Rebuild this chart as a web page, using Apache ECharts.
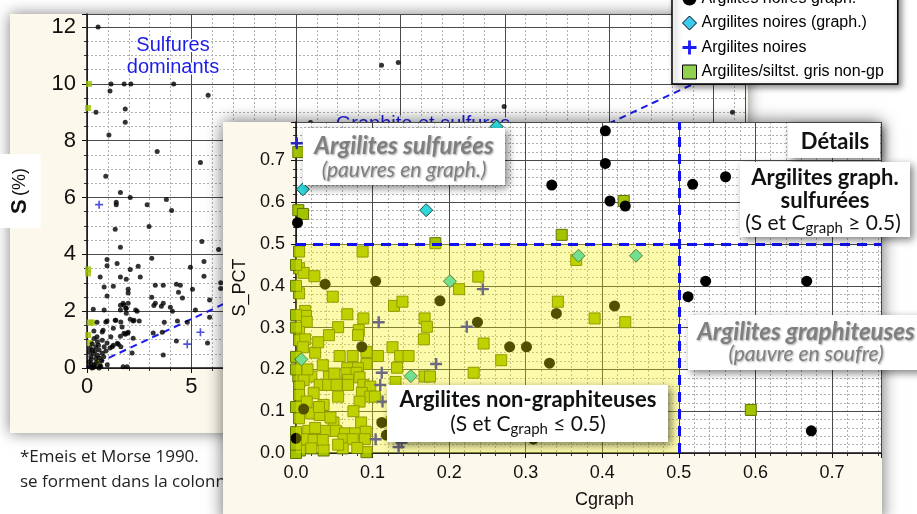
<!DOCTYPE html>
<html><head><meta charset="utf-8">
<script src="https://cdn.jsdelivr.net/npm/echarts@6/dist/echarts.min.js"></script>
<style>html,body{margin:0;padding:0;background:#fff}#c{width:917px;height:514px}</style>
</head><body><div id="c"></div>
<script>
// ---------- Background chart : S (%) vs C (%) ----------
const bgNoires = [[0.53,12.0],[1.15,10.0],[1.1,9.75],[1.78,10.0],[2.1,10.0],[4.15,10.0],[5.8,9.6],[0.43,9.0],[1.83,9.12],[1.83,8.65],[1.05,8.2],[3.36,7.62],[5.43,7.23],[0.9,6.75],[1.6,6.18],[2.07,6.0],[1.4,5.83],[1.4,5.75],[2.88,5.75],[3.8,5.93],[4.05,5.54],[1.35,4.88],[2.97,4.98],[5.5,4.45],[1.6,4.25],[6.3,4.17],
[14.1,10.66],[14.9,10.75],[19.97,9.2],[10.7,8.64],[30.9,9.0],
[0.96,3.82],[0.96,3.6],[1.44,3.68],[0.63,3.2],[1.6,3.2],[1.88,3.12],[2.07,3.47],[2.45,3.58],[2.55,3.2],[3.1,3.86],[4.95,3.55],[5.6,3.75],[5.6,3.23],[6.4,3.0],[6.4,2.8],[0.82,2.85],[1.26,2.88],[1.97,2.77],[1.97,2.64],[0.96,2.53],[3.27,2.91],[3.65,2.91],[4.28,2.95],[4.47,2.91],[4.38,2.67],[4.57,2.46],[5.05,2.77],[3.1,2.49],[3.27,2.28],[3.65,2.28],[3.99,2.14],[4.09,2.0],[5.87,2.39],[5.19,2.04],[5.87,1.79],[0.3,2.07],[1.6,2.21],[1.73,2.28],[1.97,2.28],[1.88,2.1],[1.88,1.93],[1.6,2.04],[2.4,2.0],[2.07,1.72],[2.21,1.65],[2.5,1.65],[0.96,1.65],[1.35,1.68],[0.48,1.61],[1.68,1.44],[1.26,1.4],[0.77,1.33],[1.97,1.26],[1.83,1.19],[1.6,1.12],[2.21,1.05],[3.17,1.23],[3.6,1.26],[3.7,1.61],[4.33,1.65],[4.8,1.61],[4.28,0.95],[5.77,0.88],[3.65,0.46],[1.26,0.8],[1.5,0.84],[1.1,0.7],[0.96,0.88],[2.16,0.53],[1.73,0.04],[1.92,0.04],
[0.34,1.04],[0.5,0.92],[0.42,0.75],[0.25,0.63],[0.58,0.63],[0.82,0.75],[0.73,0.52],[0.18,0.4],[0.42,0.34],[0.1,0.22],[0.34,0.11],[0.1,0.05],[0.66,0.05],[0.97,0.11],[0.73,1.27],[0.82,2.04],[0.9,1.62],[1.38,1.68],[1.62,1.62],[2.25,1.68],[1.77,2.21],[1.86,2.09],[2.33,2.04],[1.14,1.1],[1.45,0.87],[1.77,1.22],[1.93,1.22],[1.21,0.75],[1.62,0.75],[0.73,0.98],[3.2,2.2],[3.56,2.17],[0.58,0.0],[0.24,0.0],[0.2,0.3],[0.3,0.5],[0.45,0.2],[0.6,0.35],[0.15,0.7],[0.5,0.45],[0.7,0.25],[0.25,0.85],[0.38,0.6],[0.55,0.8],[0.2,0.15],[0.8,0.4],[0.62,0.08],[0.3,0.02],[0.9,0.6],[0.12,0.55],[0.48,1.1],[0.33,1.3],[0.4,0.05]];
const bgCroix = [[0.58,5.75],[5.43,1.26],[4.8,0.84]];
const bgGris = [[0.1,10.0],[0.05,9.15],[0.05,3.47],[0.05,3.33],[0.14,1.6],[0.24,1.6],[0.05,1.16],[0.14,0.88],[0.58,0.22]];
const bgLigne = [[0,0],[31.5,10.85]];
const bgXMax = 31.5, bgYMax = 12.46, bgXStep = 5, bgYStep = 2, bgXMinor = 1, bgYMinor = 0.5;

// ---------- Inset : S_PCT vs Cgraph ----------
const inNoiresGraph = [[0.404,0.771],[0.404,0.693],[0.334,0.641],[0.410,0.603],[0.430,0.591],[0.002,0.551],[0.518,0.643],[0.561,0.661],[0.535,0.411],[0.667,0.411],[0.512,0.374],[0.673,0.053],[0.038,0.404],[0.104,0.411],[0.188,0.364],[0.237,0.313],[0.416,0.352],[0.340,0.334],[0.279,0.254],[0.301,0.254],[0.331,0.215],[0.086,0.254],[0.010,0.105],[0.112,0.073],[0.118,0.043],[0.000,0.035],[0.310,0.033]];
const inDiamants = [[0.262,0.781],[0.009,0.631],[0.170,0.581],[0.201,0.411],[0.369,0.472],[0.444,0.472],[0.007,0.224],[0.150,0.184]];
const inCroix = [[0.001,0.741],[0.244,0.392],[0.108,0.313],[0.223,0.302],[0.183,0.213],[0.112,0.192],[0.110,0.163],[0.113,0.123],[0.104,0.033],[0.134,0.014],[0.138,0.025]];
const inGris = [[0.003,0.72],[0.003,0.581],[0.009,0.572],[0.182,0.502],[0.347,0.522],[0.428,0.603],[0.366,0.462],[0.342,0.362],[0.390,0.322],[0.430,0.313],[0.245,0.262],[0.268,0.222],[0.232,0.192],[0.594,0.103],
[0.004,0.482],[0.004,0.442],[0.01,0.431],[0.024,0.423],[0.087,0.482],[0.004,0.382],[0.048,0.374],[0.213,0.392],[0.238,0.422],
[0.128,0.352],[0.139,0.362],[0.012,0.340],[0.013,0.328],[0.014,0.314],[0.067,0.332],[0.088,0.322],[0.168,0.322],[0.171,0.302],[0.055,0.301],[0.043,0.282],[0.082,0.294],[0.081,0.282],[0.004,0.290],[0.004,0.270],[0.012,0.272],[0.009,0.253],[0.167,0.272],[0.126,0.253],[0.092,0.242],[0.057,0.232],[0.074,0.232],[0.107,0.232],[0.136,0.232],[0.147,0.232],[0.092,0.213],[0.132,0.204],[0.067,0.203],[0.081,0.203],[0.066,0.191],[0.079,0.192],[0.168,0.183],[0.175,0.183],[0.003,0.183],[0.02,0.183],[0.043,0.183],[0.01,0.175],[0.068,0.175],[0.083,0.181],[0.031,0.163],[0.042,0.163],[0.053,0.163],[0.068,0.163],[0.088,0.163],[0.004,0.159],[0.097,0.159],[0.086,0.144],[0.023,0.143],[0.004,0.139],[0.097,0.135],[0.103,0.135],[0.014,0.123],[0.083,0.123],[0.036,0.115],[0.02,0.095],[0.031,0.091],[0.004,0.083],[0.049,0.073],[0.085,0.073],[0.016,0.053],[0.039,0.053],[0.052,0.053],[0.064,0.047],[0.077,0.047],[0.091,0.051],[0.01,0.033],[0.023,0.031],[0.035,0.031],[0.062,0.033],[0.074,0.033],[0.09,0.033],[0.005,0.006],[0.02,0.011],[0.036,0.006],[0.061,0.011],[0.092,0.002],
[0.0,0.0],[0.0,0.02],[0.0,0.05],[0.0,0.11],[0.0,0.2],[0.0,0.23],[0.0,0.3],[0.0,0.33],[0.0,0.45],[0.0,0.4],
[0.125,0.075],[0.155,0.06],[0.17,0.1],[0.16,0.14],[0.13,0.17],[0.015,0.2],[0.035,0.21],[0.05,0.19],[0.025,0.24],[0.029,0.265],[0.03,0.11],[0.055,0.135],[0.075,0.1],[0.045,0.085],[0.025,0.06],[0.055,0.02],[0.08,0.012]];
const seuilC = 0.5, seuilS = 0.5;
const inXMax = 0.764, inYMax = 0.792, inStep = 0.1, inMinor = 0.02;

const legendNames = ['Argilites noires graph.','Argilites noires (graph.)','Argilites noires','Argilites/siltst. gris non-gp'];

const F = '"Liberation Sans", Arial, sans-serif';
const L = 'Lato, "Open Sans", sans-serif';
const CROSS = 'path://M4,0H6V4H10V6H6V10H4V6H0V4H4Z';
const BEIGE = '#fdf8ec';

function onStep(v, s){ return Math.abs(v/s - Math.round(v/s)) < 1e-6; }
function mainAxis(o){
  return Object.assign({
    type:'value', min:0, axisLine:{show:true,onZero:false,lineStyle:{color:'#111',width:1.5}},
    axisTick:{show:true,inside:false,length:5,lineStyle:{color:'#111'}},
    splitLine:{show:true,lineStyle:{color:'#4a4a4a',width:1}}
  }, o);
}
function minorAxis(o){
  return Object.assign({
    type:'value', min:0, axisLine:{show:false}, axisLabel:{show:false},
    axisTick:{show:true,inside:false,length:3,lineStyle:{color:'#333'}},
    splitLine:{show:true,lineStyle:{color:'#b0b0b0',width:1,type:[2,2]}}
  }, o);
}
function box(x,y,w,h){
  return {type:'rect', zlevel:1, z:20, shape:{x:x,y:y,width:w,height:h},
    style:{fill:'#fff', shadowBlur:8, shadowOffsetX:3, shadowOffsetY:3, shadowColor:'rgba(0,0,0,0.5)'}};
}
function txt(t,x,y,size,bold,italic,color,shadow){
  const s = {text:t, x:x, y:y, align:'center', verticalAlign:'middle', fontSize:size, fontFamily:L,
    fontWeight:bold?'bold':'normal', fontStyle:italic?'italic':'normal', fill:color};
  if (shadow) Object.assign(s,{textShadowColor:'rgba(0,0,0,0.35)', textShadowBlur:2, textShadowOffsetX:1, textShadowOffsetY:1});
  return {type:'text', zlevel:1, z:21, style:s};
}
function sub(op,x,y){
  return {type:'text', zlevel:1, z:21, style:{text:'{n|(S et C}{s|graph}{n| '+op+' 0.5)}', x:x, y:y, align:'center', verticalAlign:'middle',
    rich:{n:{fontSize:21, fontFamily:L, fill:'#111'}, s:{fontSize:15, fontFamily:L, fill:'#111', padding:[10,0,0,0]}}}};
}

const chart = echarts.init(document.getElementById('c'));
chart.setOption({
  animation:false,
  grid:[
    {left:87, top:14, width:658, height:354, show:true, backgroundColor:'#fff', borderWidth:0, zlevel:0, z:0, outerBoundsMode:'none', containLabel:false},
    {left:296, top:122, width:585, height:331, show:true, backgroundColor:'#fff', borderWidth:0, zlevel:1, z:1, outerBoundsMode:'none', containLabel:false}
  ],
  xAxis:[
    minorAxis({gridIndex:0, max:bgXMax, interval:bgXMinor, zlevel:0, z:0, position:'bottom'}),
    mainAxis({gridIndex:0, max:bgXMax, interval:bgXStep, zlevel:0, z:1, position:'bottom',
      axisLabel:{fontSize:22, fontFamily:F, color:'#111', margin:8, formatter:v=>onStep(v,bgXStep)?String(v):''}}),
    minorAxis({gridIndex:1, max:inXMax, interval:inMinor, zlevel:1, z:2, position:'bottom'}),
    mainAxis({gridIndex:1, max:inXMax, interval:inStep, zlevel:1, z:3, position:'bottom',
      axisLabel:{fontSize:18, fontFamily:F, color:'#111', margin:11, formatter:v=>onStep(v,inStep)?v.toFixed(1):''},
      name:'Cgraph', nameLocation:'middle', nameGap:38, nameTextStyle:{fontSize:18, fontFamily:F, color:'#111', padding:[0,0,0,32]}})
  ],
  yAxis:[
    minorAxis({gridIndex:0, max:bgYMax, interval:bgYMinor, zlevel:0, z:0, position:'left'}),
    mainAxis({gridIndex:0, max:bgYMax, interval:bgYStep, zlevel:0, z:1, position:'left',
      axisLabel:{fontSize:22, fontFamily:F, color:'#111', margin:11, formatter:v=>onStep(v,bgYStep)?String(v):''},
      name:'{b|S} {r|(%)}', nameLocation:'middle', nameGap:35, nameRotate:90,
      nameTextStyle:{backgroundColor:'#fff', padding:[10,14,10,14],
        rich:{b:{fontSize:22,fontWeight:'bold',fontFamily:F,color:'#111'}, r:{fontSize:18,fontFamily:F,color:'#111'}}}}),
    minorAxis({gridIndex:1, max:inYMax, interval:inMinor, zlevel:1, z:2, position:'left'}),
    mainAxis({gridIndex:1, max:inYMax, interval:inStep, zlevel:1, z:3, position:'left',
      axisLabel:{fontSize:18, fontFamily:F, color:'#111', margin:11, formatter:v=>onStep(v,inStep)?v.toFixed(1):''},
      name:'S_PCT', nameLocation:'middle', nameGap:45, nameTextStyle:{fontSize:18, fontFamily:F, color:'#111'}})
  ],
  legend:{
    orient:'vertical', left:672, top:-15.5, zlevel:1, z:20, selectedMode:false,
    itemWidth:14, itemHeight:14, itemGap:8.5, padding:[6,14,4,10],
    backgroundColor:'#fff', borderColor:'#000', borderWidth:1.5,
    shadowBlur:6, shadowColor:'rgba(0,0,0,0.45)', shadowOffsetX:3, shadowOffsetY:3,
    textStyle:{fontSize:16, fontFamily:F, color:'#000'},
    data:[
      {name:legendNames[0], icon:'circle', itemStyle:{color:'#000'}},
      {name:legendNames[1], icon:'diamond', itemStyle:{color:'#3ccaf0', borderColor:'#000', borderWidth:1}},
      {name:legendNames[2], icon:CROSS, itemStyle:{color:'#1a1aff'}},
      {name:legendNames[3], icon:'rect', itemStyle:{color:'#92d050', borderColor:'#000', borderWidth:1}}
    ]
  },
  series:[
    {name:'ligne', type:'line', xAxisIndex:1, yAxisIndex:1, data:bgLigne, symbol:'none', zlevel:0, z:2,
      lineStyle:{color:'#1a1aee', width:2, type:[7,5]}},
    {name:'bg gris', type:'scatter', xAxisIndex:1, yAxisIndex:1, data:bgGris, symbol:'rect', symbolSize:6, zlevel:0, z:3,
      itemStyle:{color:'#9cc000'}},
    {name:'bg noires', type:'scatter', xAxisIndex:1, yAxisIndex:1, data:bgNoires, symbol:'circle', symbolSize:5, zlevel:0, z:3,
      itemStyle:{color:'#000'}},
    {name:'bg croix', type:'scatter', xAxisIndex:1, yAxisIndex:1, data:bgCroix, symbol:CROSS, symbolSize:8, zlevel:0, z:3,
      itemStyle:{color:'#2424d0'}},

    {name:legendNames[3], type:'scatter', xAxisIndex:3, yAxisIndex:3, data:inGris, symbol:'rect', symbolSize:11, zlevel:1, z:4,
      itemStyle:{color:'#a2c400', borderColor:'#627400', borderWidth:1, opacity:1}},
    {name:legendNames[0], type:'scatter', xAxisIndex:3, yAxisIndex:3, data:inNoiresGraph, symbol:'circle', symbolSize:11, zlevel:1, z:4,
      itemStyle:{color:'#000', opacity:1}},
    {name:legendNames[2], type:'scatter', xAxisIndex:3, yAxisIndex:3, data:inCroix, symbol:CROSS, symbolSize:12, zlevel:1, z:4,
      itemStyle:{color:'#2828c0', opacity:1}},
    {name:legendNames[1], type:'scatter', xAxisIndex:3, yAxisIndex:3, data:inDiamants, symbol:'diamond', symbolSize:13, zlevel:1, z:4,
      itemStyle:{color:'#30d8d8', borderColor:'#1a4848', borderWidth:1, opacity:1}},

    {name:'zone', type:'scatter', xAxisIndex:3, yAxisIndex:3, data:[[seuilC,seuilS]], symbolSize:0, zlevel:1, z:6,
      markArea:{silent:true, zlevel:1, z:6, itemStyle:{color:'rgba(245,240,0,0.33)'}, data:[[{coord:[0,0]},{coord:[seuilC,seuilS]}]]}},
    {name:'seuils', type:'scatter', xAxisIndex:3, yAxisIndex:3, data:[[seuilC,seuilS]], symbolSize:0, zlevel:1, z:7,
      markLine:{silent:true, zlevel:1, z:7, symbol:['none','none'], label:{show:false},
        lineStyle:{color:'#1010f0', width:3, type:[10,7]}, data:[{yAxis:seuilS},{xAxis:seuilC}]}}
  ],
  graphic:[
    {type:'rect', zlevel:0, z:-10, shape:{x:10,y:14,width:738,height:419},
      style:{fill:BEIGE, shadowBlur:14, shadowColor:'rgba(0,0,0,0.5)'}},
    {type:'text', zlevel:0, z:10, style:{text:'Sulfures', x:173, y:45, align:'center', verticalAlign:'middle',
      fontSize:20, fontFamily:F, fill:'#1c1ce8', stroke:'#fff', lineWidth:3}},
    {type:'text', zlevel:0, z:10, style:{text:'dominants', x:173, y:67, align:'center', verticalAlign:'middle',
      fontSize:20, fontFamily:F, fill:'#1c1ce8', stroke:'#fff', lineWidth:3}},
    {type:'text', zlevel:0, z:10, style:{text:'Graphite et sulfures', x:423, y:124, align:'center', verticalAlign:'middle',
      fontSize:20, fontFamily:F, fill:'#1c1ce8', stroke:'#fff', lineWidth:3}},
    {type:'text', zlevel:0, z:10, style:{text:'*Emeis et Morse 1990.', x:20, y:457, align:'left', verticalAlign:'middle',
      fontSize:17, fontFamily:'"Open Sans", sans-serif', fill:'#222'}},
    {type:'text', zlevel:0, z:10, style:{text:'se forment dans la colonne d\u2019eau', x:20, y:482, align:'left', verticalAlign:'middle',
      fontSize:17, fontFamily:'"Open Sans", sans-serif', fill:'#222'}},

    {type:'rect', zlevel:1, z:0, shape:{x:223,y:122,width:659,height:400},
      style:{fill:BEIGE, shadowBlur:16, shadowColor:'rgba(0,0,0,0.6)'}},

    box(303,128,202,57),
    txt('Argilites sulfurées',404,146,24,true,true,'#7f7f7f',true),
    txt('(pauvres en graph.)',404,170,21,false,true,'#7f7f7f',true),

    box(788,123,92,35),
    txt('Détails',835,142,22,true,false,'#111',false),

    box(740,162,170,75),
    txt('Argilites graph.',825,178,22,true,false,'#111',false),
    txt('sulfurées',825,201,22,true,false,'#111',false),
    sub('≥',823,223),

    box(688,315,240,55),
    txt('Argilites graphiteuses',806,332,24,true,true,'#7f7f7f',true),
    txt('(pauvre en soufre)',806,354,21,false,true,'#7f7f7f',true),

    box(387,385,281,57),
    txt('Argilites non-graphiteuses',528,400,22,true,false,'#111',false),
    sub('≤',528,424)
  ]
});
</script></body></html>
